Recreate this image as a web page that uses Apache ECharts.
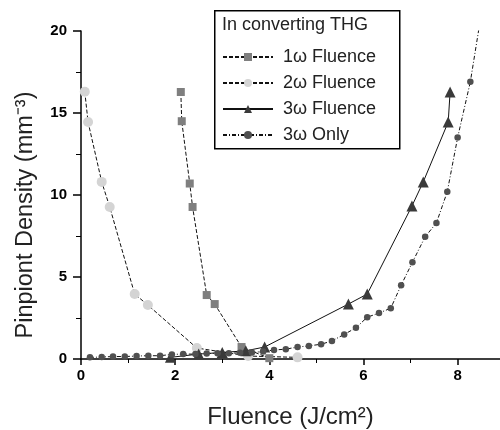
<!DOCTYPE html>
<html>
<head>
<meta charset="utf-8">
<script src="https://cdn.jsdelivr.net/npm/echarts@6/dist/echarts.min.js"></script>
<style>html,body{margin:0;padding:0;background:#fff;}#c{width:500px;height:430px;}</style>
</head>
<body>
<div id="c"></div>
<script>
const xTicks = [0, 2, 4, 6, 8];
const yTicks = [0, 5, 10, 15, 20];
const seriesNames = ['1\u03c9 Fluence', '2\u03c9 Fluence', '3\u03c9 Fluence', '3\u03c9 Only'];

const fluence1x = [2.12, 2.14, 2.31, 2.37, 2.67, 2.84, 3.41, 4.0];
const fluence1y = [16.28, 14.5, 10.7, 9.27, 3.9, 3.35, 0.73, 0.05];

const fluence2x = [0.08, 0.15, 0.44, 0.61, 1.14, 1.42, 2.46, 3.55, 4.6];
const fluence2y = [16.3, 14.45, 10.8, 9.27, 3.96, 3.29, 0.67, 0.18, 0.1];

const fluence3x = [1.9, 2.5, 3.0, 3.5, 3.9, 5.68, 6.08, 7.03, 7.27, 7.8, 7.84];
const fluence3y = [0.1, 0.3, 0.4, 0.5, 0.73, 3.35, 3.96, 9.33, 10.8, 14.45, 16.28];

const only3x = [0.19, 0.44, 0.68, 0.93, 1.18, 1.43, 1.68, 1.93, 2.17, 2.43, 2.67, 2.9, 3.14, 3.38, 3.63, 3.87,
  4.1, 4.35, 4.6, 4.84, 5.1, 5.33, 5.59, 5.84, 6.08, 6.33, 6.58, 6.8, 7.04, 7.31, 7.55, 7.78, 8.0, 8.27, 8.5];
const only3y = [0.1, 0.12, 0.15, 0.15, 0.18, 0.2, 0.2, 0.28, 0.3, 0.3, 0.33, 0.35, 0.35, 0.38, 0.4, 0.45,
  0.55, 0.6, 0.73, 0.8, 0.9, 1.1, 1.5, 1.9, 2.55, 2.8, 3.1, 4.5, 5.9, 7.45, 8.3, 10.2, 13.5, 16.9, 21];

function pairs(xs, ys) { return xs.map((x, i) => [x, ys[i]]); }

const chart = echarts.init(document.getElementById('c'), null, {renderer: 'canvas'});
const baseLine = {color: '#111', width: 1};
chart.setOption({
  animation: false,
  backgroundColor: '#fff',
  grid: {left: 81, right: 0, top: 31, bottom: 71, containLabel: false, outerBoundsMode: 'none'},
  xAxis: {
    type: 'value', min: 0, max: 8.9, interval: 2,
    name: 'Fluence (J/cm\u00b2)', nameLocation: 'middle', nameGap: 46,
    nameTextStyle: {fontFamily: 'Liberation Sans, Arial', fontSize: 24, color: '#222'},
    axisLine: {onZero: false, lineStyle: {color: '#000', width: 1.5}},
    axisTick: {show: true, inside: false, length: 6, lineStyle: {color: '#000', width: 1.5},
      customValues: xTicks},
    minorTick: {show: true, splitNumber: 2, length: 4, lineStyle: {color: '#000', width: 1}},
    axisLabel: {customValues: xTicks, formatter: v => String(v), margin: 9, fontFamily: 'Liberation Sans, Arial', fontWeight: 'bold', fontSize: 15, color: '#000'},
    splitLine: {show: false}
  },
  yAxis: {
    type: 'value', min: 0, max: 20, interval: 5,
    name: 'Pinpiont Density (mm\u207b\u00b3)', nameLocation: 'middle', nameGap: 43,
    nameTextStyle: {fontFamily: 'Liberation Sans, Arial', fontSize: 23.5, color: '#222', padding: [0, 40, 0, 0]},
    axisLine: {onZero: false, lineStyle: {color: '#000', width: 1.5}},
    axisTick: {show: true, inside: false, length: 8, lineStyle: {color: '#000', width: 1.5}},
    minorTick: {show: true, splitNumber: 2, length: 5, lineStyle: {color: '#000', width: 1}},
    axisLabel: {customValues: yTicks, margin: 14, fontFamily: 'Liberation Sans, Arial', fontWeight: 'bold', fontSize: 15, color: '#000'},
    splitLine: {show: false}
  },
  graphic: [
    {type: 'rect', left: 214, top: 10, shape: {width: 185, height: 138}, z: 3,
      style: {fill: '#fff', stroke: '#000', lineWidth: 1.5}},
    {type: 'text', left: 222, top: 16, z: 5,
      style: {text: 'In converting THG', font: '18px "Liberation Sans", Arial', fill: '#222'}}
  ],
  legend: {
    orient: 'vertical', left: 217, top: 42, z: 6,
    itemWidth: 50, itemHeight: 10, itemGap: 6,
    data: seriesNames,
    textStyle: {fontFamily: 'Liberation Sans, Arial', fontSize: 18, color: '#222', lineHeight: 20, padding: [0, 0, 0, 5]}
  },
  series: [
    {name: seriesNames[0], type: 'line', data: pairs(fluence1x, fluence1y), symbol: 'rect', symbolSize: 8,
      itemStyle: {color: '#7f7f7f'}, lineStyle: Object.assign({type: [4, 2]}, baseLine), clip: true},
    {name: seriesNames[1], type: 'line', data: pairs(fluence2x, fluence2y), symbol: 'circle', symbolSize: 10,
      itemStyle: {color: '#d4d4d4'}, lineStyle: Object.assign({type: [4, 2]}, baseLine), clip: true},
    {name: seriesNames[2], type: 'line', data: pairs(fluence3x, fluence3y), symbol: 'triangle', symbolSize: 11,
      itemStyle: {color: '#3a3a3a'}, lineStyle: Object.assign({type: 'solid'}, baseLine), clip: true},
    {name: seriesNames[3], type: 'line', data: pairs(only3x, only3y), symbol: 'circle', symbolSize: 6.5,
      itemStyle: {color: '#505050'}, lineStyle: Object.assign({type: [4, 2, 1, 2]}, baseLine), clip: true}
  ]
});
</script>
</body>
</html>
